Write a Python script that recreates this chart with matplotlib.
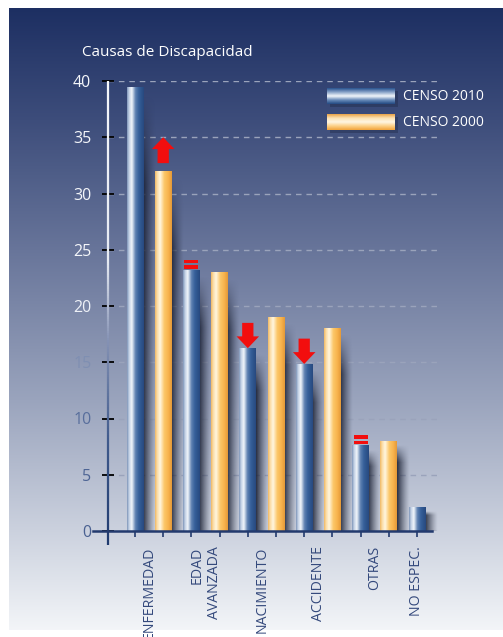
import numpy as np
import matplotlib
matplotlib.use('Agg')
import matplotlib.pyplot as plt
from matplotlib.colors import LinearSegmentedColormap, to_rgb
from matplotlib.patches import FancyArrow, Rectangle
from matplotlib.collections import LineCollection

plt.rcParams['font.family'] = ['Open Sans', 'DejaVu Sans']

categories = ['ENFERMEDAD', 'EDAD\nAVANZADA', 'NACIMIENTO', 'ACCIDENTE', 'OTRAS', 'NO ESPEC.']
censo_2010 = [39.4, 23.2, 16.2, 14.8, 7.6, 2.1]
censo_2000 = [32.0, 23.0, 19.0, 18.0, 8.0, np.nan]
cambio = ['sube', 'igual', 'baja', 'baja', 'igual', None]
y_ticks = [0, 5, 10, 15, 20, 25, 30, 35, 40]
y_tick_colors = ['#4a6191', '#4d6494', '#586e9c', '#7f8fb2', '#eef1f7',
                 '#f4f6fa', '#f4f6fa', '#f4f6fa', '#f4f6fa']

W, H = 503, 637
fig = plt.figure(figsize=(W / 100, H / 100), dpi=100)

# fondo degradado (coordenadas en pixeles)
bg = fig.add_axes([0, 0, 1, 1])
bg.set_xlim(0, W)
bg.set_ylim(H, 0)
bg.axis('off')
stops_y = [8, 120, 250, 400, 530, 630]
stops_c = ['#1d2f62', '#3d4d7b', '#68759a', '#9aa4bd', '#cbd1de', '#f3f5f8']
rows = np.arange(8, 631)
grad = np.stack([np.interp(rows, stops_y, [to_rgb(c)[k] for c in stops_c]) for k in range(3)], axis=1)
bg.imshow(grad[:, None, :], extent=(9, W, 630, 8), aspect='auto', interpolation='bilinear')

fig.text(82 / W, 1 - 52 / H, 'Causas de Discapacidad', color='white', fontsize=11, va='center')

# leyenda
azul_h = LinearSegmentedColormap.from_list('azul_h', ['#2c5590', '#8aa4c9', '#f4f7fb', '#6a8cba', '#254b84'])
nar_h = LinearSegmentedColormap.from_list('nar_h', ['#eaa54a', '#fde3b4', '#fff6e4', '#fcd189', '#f2a53e'])
for y0, cmap, txt in [(88, azul_h, 'CENSO 2010'), (114, nar_h, 'CENSO 2000')]:
    bg.add_patch(Rectangle((330, y0 + 3), 68, 16, color='#1a2440', alpha=0.35, lw=0))
    bg.imshow(np.linspace(0, 1, 32)[:, None], cmap=cmap, extent=(327, 395, y0 + 16, y0),
              aspect='auto', interpolation='bilinear', zorder=3)
    bg.text(403, y0 + 8, txt, color='white', fontsize=10, va='center')
bg.set_xlim(0, W)
bg.set_ylim(H, 0)

# grafico principal
step = 28.2
ax = fig.add_axes([108 / W, (H - 531) / H, 332 / W, 450 / H])
ax.patch.set_alpha(0)
for s in ax.spines.values():
    s.set_visible(False)

ax.set_yticks(y_ticks)
ax.tick_params(axis='y', direction='inout', length=8, width=1.3, pad=8, labelsize=11.5)
for tick, c in zip(ax.yaxis.get_major_ticks(), y_tick_colors):
    tick.tick1line.set_color(c)
    tick.label1.set_color(c)

# rejilla
for v in y_ticks:
    ax.axhline(v, color='#9aa3bb', lw=1, ls=(0, (4, 3.5)), zorder=1)

x2010 = np.arange(len(categories)) * 2.0
x2000 = x2010 + 1
bw = 0.6

azul_v = LinearSegmentedColormap.from_list('azul_v', [(0, '#7f96ba'), (0.12, '#c4d2e6'), (0.28, '#f2f6fb'),
                                                    (0.5, '#5f82b2'), (0.7, '#36609a'), (1, '#27497f')])
nar_v = LinearSegmentedColormap.from_list('nar_v', [(0, '#efb865'), (0.12, '#fbdca5'), (0.3, '#fff6e0'),
                                                   (0.55, '#fcc769'), (0.8, '#f7b24c'), (1, '#e49a38')])

mask = ~np.isnan(censo_2000)
bars_a = ax.bar(x2010, censo_2010, width=bw, color='none', zorder=3)
bars_b = ax.bar(x2000[mask], np.array(censo_2000)[mask], width=bw, color='none', zorder=3)

sombra = np.zeros((40, 40, 4))
sombra[..., :3] = to_rgb('#1a2033')
hx = (1 - np.linspace(0, 1, 40)) ** 1.3
vy = np.clip(np.linspace(0, 1, 40) * 5, 0, 1)
sombra[..., 3] = 0.9 * hx[None, :] * vy[:, None]

for bars, cmap in [(bars_a, azul_v), (bars_b, nar_v)]:
    for r in bars:
        x0, w, h = r.get_x(), r.get_width(), r.get_height()
        ax.imshow(sombra, extent=(x0 + w - 0.02, x0 + w + 0.42, 0, h - 0.35), origin='upper',
                  aspect='auto', interpolation='bilinear', zorder=2)
        ax.imshow(np.linspace(0, 1, 64)[None, :], cmap=cmap, extent=(x0, x0 + w, 0, h),
                  aspect='auto', interpolation='bilinear', zorder=3)

ax.set_xlim((108 - 135) / step, (440 - 135) / step)
ax.set_ylim(0, 40)

# flechas de cambio
rojo = '#f20e0e'
for i, c in enumerate(cambio):
    if c == 'sube':
        top = censo_2000[i]
        ax.add_patch(FancyArrow(x2000[i], top + 0.7, 0, 2.3, width=0.4, head_width=0.8,
                                head_length=1.05, length_includes_head=True, color=rojo, lw=0, zorder=6))
    elif c == 'baja':
        top = censo_2010[i]
        ax.add_patch(FancyArrow(x2010[i], top + 2.3, 0, -2.25, width=0.4, head_width=0.8,
                                head_length=1.05, length_includes_head=True, color=rojo, lw=0, zorder=6))
    elif c == 'igual':
        top = censo_2010[i]
        for dy in (0.12, 0.62):
            ax.add_patch(Rectangle((x2010[i] - 0.25, top + dy), 0.5, 0.3, color=rojo, lw=0, zorder=6))

# eje y con degradado
ys = np.linspace(-1.25, 40, 200)
seg = [[(0, a), (0, b)] for a, b in zip(ys[:-1], ys[1:])]
cy = [40, 24, 17, 8, -1.25]
cc = ['#f4f6fa', '#e6eaf2', '#8592b4', '#3f5a8c', '#1f3a6e']
mid = (ys[:-1] + ys[1:]) / 2
cols = np.stack([np.interp(mid, cy[::-1], [to_rgb(c)[k] for c in cc[::-1]]) for k in range(3)], axis=1)
ax.add_collection(LineCollection(seg, colors=cols, linewidths=1.6, transform=ax.get_yaxis_transform(),
                                 clip_on=False, zorder=5))

# eje x
ax.plot([(93 - 135) / step, (432 - 135) / step], [0, 0], color='#223a6e', lw=1.8, clip_on=False, zorder=5)
ax.xaxis.remove_overlapping_locs = False
ax.set_xticks(np.arange(11), labels=[''] * 11)
ax.tick_params(axis='x', which='major', direction='inout', length=8, width=1.2, color='#223a6e')
label_x = [0.5, 2.5, 4.5, 6.5, 8.5, 10]
ax.set_xticks(label_x, labels=categories, minor=True)
ax.tick_params(axis='x', which='minor', length=0, pad=11, labelsize=10.2, labelcolor='#34497c')
for lbl in ax.get_xticklabels(minor=True):
    lbl.set_rotation(90)
    lbl.set_multialignment('right')

fig.savefig('out.png', dpi=100)
